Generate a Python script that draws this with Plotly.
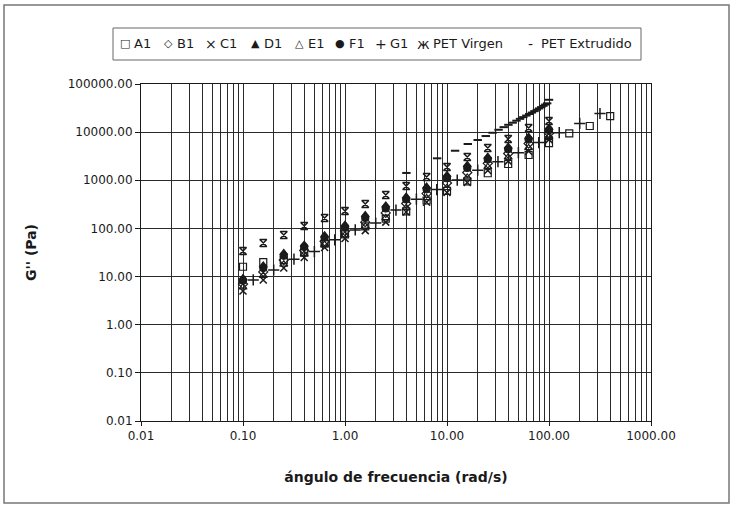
import plotly.graph_objects as go

# ---------------- data ----------------
freq = [0.1, 0.158, 0.251, 0.398, 0.631, 1.0, 1.58, 2.51, 3.98, 6.31,
        10.0, 15.8, 25.1, 39.8, 63.1, 100.0]
freq_a1 = freq + [158.0, 251.0, 398.0]
freq_g1 = [0.126, 0.2, 0.316, 0.501, 0.794, 1.26, 2.0, 3.16, 5.01, 7.94,
           12.6, 20.0, 31.6, 50.1, 79.4, 126.0, 200.0, 316.0]
freq_ext = [4, 8, 12, 16, 20, 24, 28, 32, 36, 40, 44, 48, 52, 56, 60, 64,
            68, 72, 76, 80, 84, 88, 92, 96, 100]

a1 = [16, 20, 22, 32, 48, 75, 110, 160, 225, 380, 600, 950, 1400, 2180,
      3350, 5900, 9460, 13400, 21600]
b1 = [7, 12.5, 22, 35, 54, 88, 135, 210, 330, 530, 880, 1450, 2250, 3600,
      5800, 9500]
c1 = [5, 8.5, 15, 25, 40, 62, 90, 135, 220, 350, 560, 900, 1600, 2500,
      4000, 7000]
d1 = [9.3, 17, 31, 46, 72, 120, 190, 300, 460, 740, 1290, 2080, 3090, 5000,
      8000, 12300]
e1 = [6, 10.5, 18, 29, 46, 73, 110, 165, 270, 430, 700, 1150, 1900, 3000,
      4700, 8100]
f1 = [8.2, 15, 27, 41, 64, 105, 165, 260, 400, 650, 1100, 1800, 2700, 4400,
      7000, 11000]
g1 = [8.5, 13.7, 23, 33, 58, 93, 129, 240, 405, 640, 1010, 1620, 2430, 3740,
      6070, 9770, 15200, 24400]
pet_virgen = [34, 50, 73, 112, 165, 230, 323, 493, 760, 1170, 1890, 3050,
              4690, 7200, 12200, 17000]
pet_extrudido = [1420, 2860, 4110, 5670, 6870, 8300, 9700, 11200, 12700,
                 14200, 15700, 17300, 18900, 20500, 22100, 23800, 25500,
                 27300, 29200, 31100, 33100, 35200, 37400, 39700, 47000]

series_names = ["A1", "B1", "C1", "D1", "E1", "F1", "G1", "PET Virgen",
                "PET Extrudido"]
legend_glyphs = ["□", "◇", "×", "▲", "△", "●", "+", "ж", "-"]

x_tickvals = [0.01, 0.1, 1, 10, 100, 1000]
x_ticktext = ["0.01", "0.10", "1.00", "10.00", "100.00", "1000.00"]
y_tickvals = [0.01, 0.1, 1, 10, 100, 1000, 10000, 100000]
y_ticktext = ["0.01", "0.10", "1.00", "10.00", "100.00", "1000.00",
              "10000.00", "100000.00"]

# ---------------- styles / layout ----------------
FONT = "DejaVu Sans, Verdana, sans-serif"
INK = "#1a1a1a"
W, H = 733, 509
L, R, T, B = 141, 651, 84, 421          # plot-area pixel box


def px(x):
    return (x - L) / (R - L)


def py(y):
    return (B - y) / (B - T)


fig = go.Figure()

trace_styles = [
    ("square-open", 7, 1.2),
    ("diamond-open", 7, 1.2),
    ("x-thin-open", 7, 1.5),
    ("triangle-up", 7, 1.2),
    ("triangle-up-open", 7, 1.2),
    ("circle", 7, 1.2),
    ("cross-thin-open", 8, 1.5),
    ("hourglass-open", 7, 1.5),
    ("line-ew-open", 6, 2),
]
xs = [freq_a1, freq, freq, freq, freq, freq, freq_g1, freq, freq_ext]
ys = [a1, b1, c1, d1, e1, f1, g1, pet_virgen, pet_extrudido]

for name, x, y, (sym, size, lw) in zip(series_names, xs, ys, trace_styles):
    fig.add_trace(go.Scatter(
        x=x, y=y, name=name, mode="markers", showlegend=False,
        marker=dict(symbol=sym, size=size, color=INK,
                    line=dict(color=INK, width=lw)),
    ))

minor_x = [m * 10 ** e for e in range(-2, 3) for m in range(2, 10)]

fig.update_xaxes(
    type="log", range=[-2, 3],
    tickvals=x_tickvals, ticktext=x_ticktext,
    ticks="outside", ticklen=4, tickcolor=INK,
    showline=True, linecolor=INK, linewidth=1, mirror=True,
    showgrid=True, gridcolor="#2a2a2a", gridwidth=1,
    minor=dict(tickvals=minor_x, showgrid=True, gridcolor="#2a2a2a",
               gridwidth=1, ticks=""),
    zeroline=False,
    tickfont=dict(family=FONT, size=12, color=INK),
    title=dict(text="<b>ángulo de frecuencia (rad/s)</b>",
               font=dict(family=FONT, size=14, color=INK), standoff=29),
)
fig.update_yaxes(
    type="log", range=[-2, 5],
    tickvals=y_tickvals, ticktext=y_ticktext,
    ticks="outside", ticklen=5, tickcolor=INK,
    showline=True, linecolor=INK, linewidth=1, mirror=True,
    showgrid=True, gridcolor="#2a2a2a", gridwidth=1,
    zeroline=False,
    tickfont=dict(family=FONT, size=12, color=INK),
    title=dict(text="<b>G'' (Pa)</b>",
               font=dict(family=FONT, size=14, color=INK), standoff=27),
)

# legend drawn as a boxed row of glyph + label texts
glyph_x = [125, 168, 211, 255, 299, 340, 381, 423, 530]
label_x = [132, 175, 218, 262, 306, 347, 388, 431, 539]
annotations = []
for g, lab, gx, lx in zip(legend_glyphs, series_names, glyph_x, label_x):
    annotations.append(dict(
        text=g, xref="paper", yref="paper", x=px(gx), y=py(44),
        xanchor="center", yanchor="middle", showarrow=False,
        font=dict(family=FONT, size=14 if g in "×+ж-" else 11, color=INK)))
    annotations.append(dict(
        text=lab, xref="paper", yref="paper", x=px(lx), y=py(44),
        xanchor="left", yanchor="middle", showarrow=False,
        font=dict(family=FONT, size=13, color=INK)))

fig.update_layout(
    width=W, height=H,
    margin=dict(l=L, r=W - R, t=T, b=H - B),
    paper_bgcolor="white", plot_bgcolor="white",
    font=dict(family=FONT, size=12, color=INK),
    showlegend=False,
    annotations=annotations,
    shapes=[
        dict(type="rect", xref="paper", yref="paper",
             x0=px(4), x1=px(729), y0=py(503), y1=py(5),
             line=dict(color="#777777", width=1.5),
             fillcolor="rgba(0,0,0,0)", layer="below"),
        dict(type="rect", xref="paper", yref="paper",
             x0=px(113), x1=px(641), y0=py(60), y1=py(28),
             line=dict(color="#666666", width=1),
             fillcolor="rgba(0,0,0,0)"),
    ],
)

fig.write_html(
    "out.html",
    config={"displayModeBar": False},
    post_script="document.body.style.margin='0';"
                "document.body.style.overflow='hidden';",
)
